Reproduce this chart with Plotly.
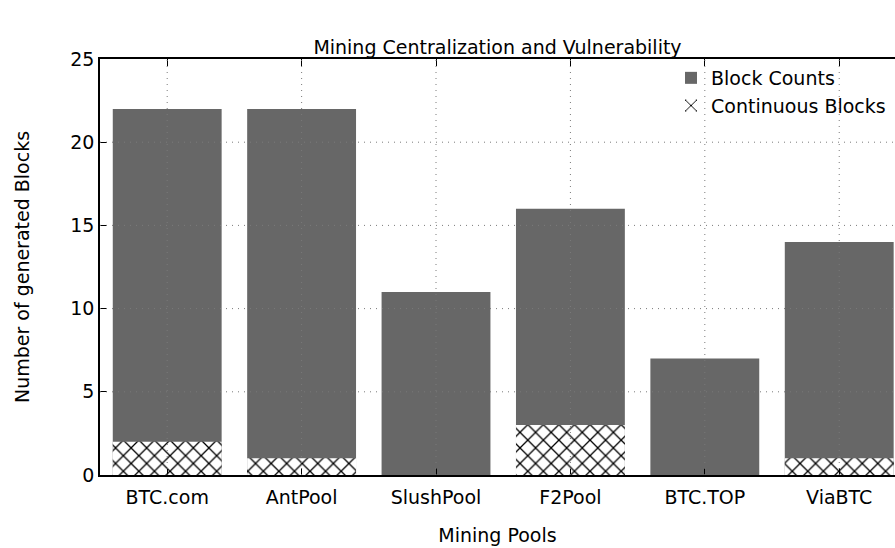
import plotly.graph_objects as go

pools = ["BTC.com", "AntPool", "SlushPool", "F2Pool", "BTC.TOP", "ViaBTC"]
block_counts = [22, 22, 11, 16, 7, 14]
continuous_blocks = [2, 1, 0, 3, 0, 1]
y_ticks = [0, 5, 10, 15, 20, 25]

FONT = "DejaVu Sans"
FS = 19
GRAY = "#676767"

fig = go.Figure()
fig.add_trace(go.Bar(
    x=pools, y=block_counts, name="Block Counts", width=0.81,
    marker=dict(color=GRAY, line=dict(width=0)),
))
fig.add_trace(go.Bar(
    x=pools, y=continuous_blocks, name="Continuous Blocks", width=0.81,
    marker=dict(color="white", line=dict(width=0),
                pattern=dict(shape="x", fgcolor="black", bgcolor="white",
                             size=11, solidity=0.22, fillmode="replace")),
))

# dotted grid lines drawn on top of the bars (as in the original)
for v in y_ticks[1:-1]:
    fig.add_shape(type="line", xref="paper", yref="y", x0=0, x1=1, y0=v, y1=v,
                  line=dict(color="#7a7a7a", width=1, dash="1px,5px"), layer="above")
for p in pools:
    fig.add_shape(type="line", xref="x", yref="paper", x0=p, x1=p, y0=0, y1=1,
                  line=dict(color="#7a7a7a", width=1, dash="1px,5px"), layer="above")

fig.update_layout(
    width=895, height=548,
    margin=dict(l=100, r=0, t=59, b=73),
    paper_bgcolor="white", plot_bgcolor="white",
    barmode="overlay",
    font=dict(family=FONT, size=FS, color="black"),
    title=dict(text="Mining Centralization and Vulnerability", x=0.5, xref="paper",
               xanchor="center", y=1 - 47 / 548, yanchor="middle",
               font=dict(family=FONT, size=FS)),
    showlegend=True,
    legend=dict(x=0.995, xanchor="right", y=1.0, yanchor="top",
                bgcolor="rgba(255,255,255,0)", font=dict(family=FONT, size=FS),
                traceorder="normal", tracegroupgap=0),
    xaxis=dict(
        type="category", range=[-0.5, 5.415],
        showline=True, linecolor="black", linewidth=1.5, mirror="ticks",
        ticks="inside", ticklen=7, tickcolor="black",
        showgrid=False, zeroline=False, ticklabelstandoff=4,
        title=dict(text="Mining Pools", font=dict(family=FONT, size=FS), standoff=22),
    ),
    yaxis=dict(
        range=[0, 25], tickvals=y_ticks, ticktext=[str(v) for v in y_ticks],
        showline=True, linecolor="black", linewidth=1.5, mirror=False,
        ticks="inside", ticklen=7, tickcolor="black",
        showgrid=False, zeroline=False,
        title=dict(text="Number of generated Blocks", font=dict(family=FONT, size=FS), standoff=36),
    ),
)

fig.write_html("out.html", config={"displayModeBar": False},
               post_script="document.body.style.margin='0';")
